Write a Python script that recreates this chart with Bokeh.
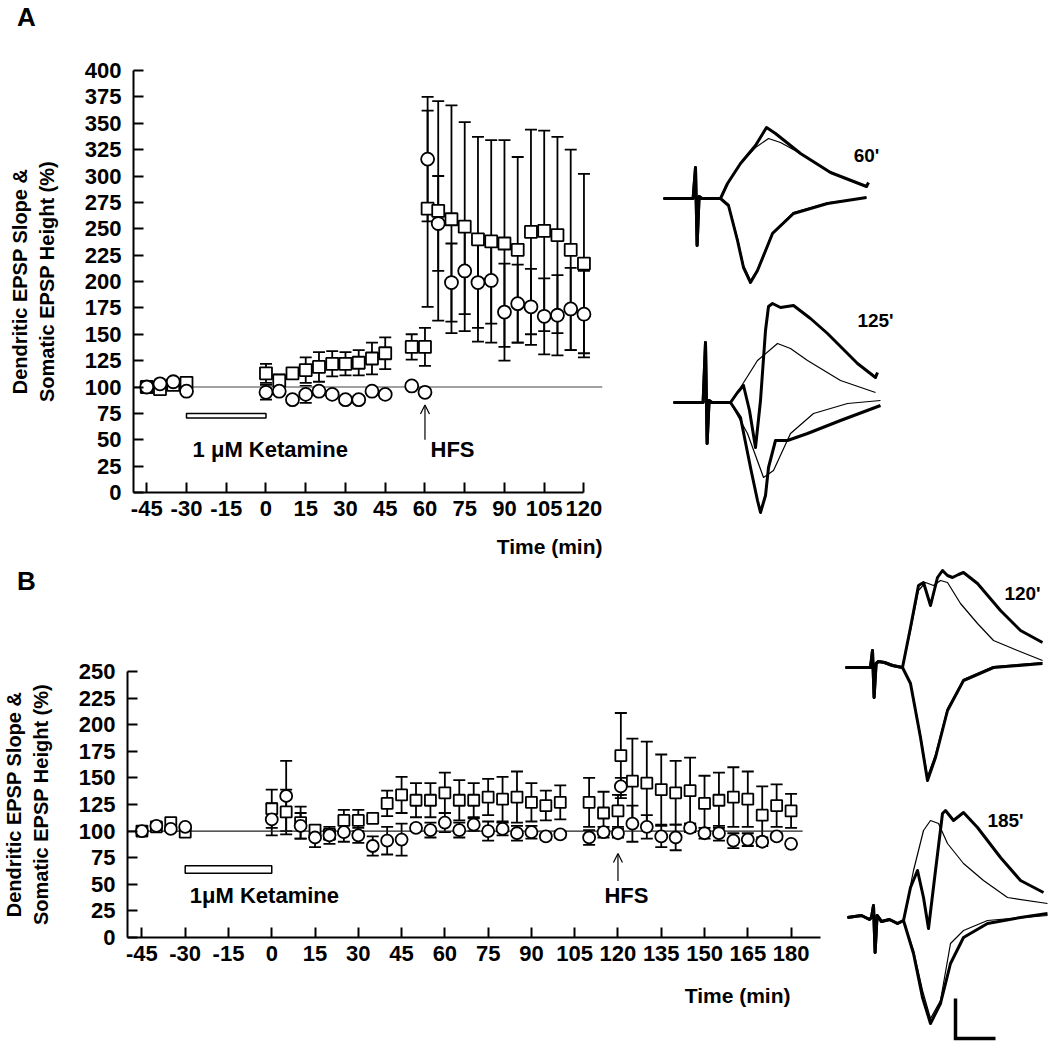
from bokeh.plotting import figure
from bokeh.layouts import column, row
from bokeh.models import (ColumnDataSource, Whisker, TeeHead, Arrow, OpenHead,
                          Label, Range1d, FixedTicker)
from bokeh.embed import file_html
from bokeh.resources import INLINE

FONT = "Liberation Sans"
YLABEL = "Dendritic EPSP Slope &\nSomatic EPSP Height (%)"

# ---------------- Panel A data ----------------
A_T = [-45, -40, -35, -30, 0, 5, 10, 15, 20, 25, 30, 35, 40, 45, 55, 60,
       61, 65, 70, 75, 80, 85, 90, 95, 100, 105, 110, 115, 120]
A_SQ = [100, 98, 102, 104, 113, 106, 113, 116, 119, 122, 122, 123, 127, 132, 138, 138,
        269, 267, 259, 252, 240, 238, 236, 230, 247, 248, 244, 230, 217]
A_SQ_SEM = [2, 2, 2, 2, 9, 6, 5, 12, 14, 12, 11, 12, 15, 15, 12, 18,
            93, 104, 108, 99, 97, 96, 98, 88, 97, 95, 93, 95, 85]
A_CI = [100, 103, 105, 96, 95, 96, 88, 93, 96, 93, 88, 88, 96, 93, 101, 95,
        316, 255, 199, 210, 199, 201, 171, 179, 176, 167, 168, 174, 169]
A_CI_SEM = [2, 2, 2, 2, 7, 3, 3, 8, 3, 3, 3, 3, 3, 3, 3, 3,
            59, 45, 37, 41, 43, 41, 46, 37, 36, 36, 38, 39, 41]
A_XTICKS = [-45, -30, -15, 0, 15, 30, 45, 60, 75, 90, 105, 120]
A_YTICKS = [0, 25, 50, 75, 100, 125, 150, 175, 200, 225, 250, 275, 300, 325, 350, 375, 400]

# ---------------- Panel B data ----------------
B_T = [-45, -40, -35, -30, 0, 5, 10, 15, 20, 25, 30, 35, 40, 45, 50, 55, 60, 65, 70, 75,
       80, 85, 90, 95, 100, 110, 115, 120, 121, 125, 130, 135, 140, 145, 150, 155, 160,
       165, 170, 175, 180]
B_SQ = [100, 104, 108, 99, 121, 118, 108, 101, 97, 110, 110, 112, 126, 134, 129, 129, 136, 129, 129, 132,
        130, 132, 127, 124, 127, 127, 117, 119, 171, 147, 145, 139, 136, 138, 126, 129, 132,
        130, 115, 124, 119]
B_SQ_SEM = [2, 2, 2, 2, 18, 21, 15, 4, 4, 10, 10, 2, 12, 17, 16, 16, 19, 19, 16, 17,
            21, 24, 18, 14, 16, 23, 20, 15, 40, 40, 39, 33, 30, 31, 26, 26, 28,
            26, 27, 20, 16]
B_CI = [100, 105, 102, 104, 111, 133, 105, 94, 96, 99, 96, 86, 91, 92, 103, 101, 108, 101, 106, 100,
        102, 98, 99, 95, 97, 94, 99, 98, 142, 107, 104, 95, 94, 103, 98, 98, 91,
        92, 90, 95, 88]
B_CI_SEM = [1.5, 1.5, 1.5, 1.5, 15, 33, 12, 9, 8, 9, 7, 9, 13, 15, 3, 7, 9, 7, 6, 9,
            6, 7, 6, 3, 3, 7, 5, 4, 8, 17, 11, 10, 12, 4, 5, 7, 7,
            6, 4, 3, 0]
B_XTICKS = [-45, -30, -15, 0, 15, 30, 45, 60, 75, 90, 105, 120, 135, 150, 165, 180]
B_YTICKS = [0, 25, 50, 75, 100, 125, 150, 175, 200, 225, 250]

KETAMINE = (-30, 0)
HFS_A = 60
HFS_B = 120

# ---------------- Example traces (ms, mV) ----------------
ART_A60_T = [-8, -0.6, 0, 0.4, 0.9, 1.6, 6.25]
ART_A60_V = [0, 0, 1.55, -2.35, 0.1, 0, 0]
A60_UP_THICK_T = [6.25, 8, 11.25, 15, 17.75, 20, 26.25, 33.75, 42.75, 43.25]
A60_UP_THICK_V = [0, 0.75, 1.75, 2.65, 3.55, 3.25, 2.25, 1.3, 0.6, 0.8]
A60_UP_THIN_T = [6.25, 8, 11.25, 15, 18.25, 21.25, 26.25, 33.75, 42.75]
A60_UP_THIN_V = [0, 0.75, 1.75, 2.55, 3.0, 2.8, 2.25, 1.3, 0.6]
A60_DN_THICK_T = [6.25, 8.25, 10.5, 12, 13.75, 15.5, 19.25, 24.5, 33, 42.75]
A60_DN_THICK_V = [0, -0.35, -2.1, -3.45, -4.2, -3.6, -1.75, -0.75, -0.25, 0.05]
A60_DN_THIN_T = [6.25, 8.25, 10.5, 12, 13.75, 15.5, 19.25, 24.5, 33, 42.75]
A60_DN_THIN_V = [0, -0.3, -2.0, -3.35, -4.1, -3.55, -1.7, -0.7, -0.22, 0.05]

ART_A125_T = [-8, -0.6, 0, 0.4, 0.9, 1.6, 6.25]
ART_A125_V = [0, 0, 3.0, -2.05, 0.1, 0, 0]
A125_UP_THICK_T = [6.25, 8, 9.5, 11, 12.5, 13.75, 15, 15.75, 16.75, 18.75, 22, 26.25, 30.5, 38, 42.5, 43]
A125_UP_THICK_V = [0, 0.5, 0.85, -0.4, -2.25, 0.1, 3.6, 4.8, 4.95, 4.75, 4.85, 4.2, 3.45, 1.95, 1.25, 1.5]
A125_UP_THIN_T = [6.25, 8.75, 13, 18, 21.25, 25.5, 33.75, 42.5]
A125_UP_THIN_V = [0, 0.75, 2.1, 2.95, 2.7, 2.1, 1.1, 0.5]
A125_DN_THICK_T = [6.25, 8.75, 11.25, 13, 13.75, 15, 15.75, 17.5, 20.5, 25.5, 33.75, 43.75]
A125_DN_THICK_V = [0, -0.75, -3.25, -4.9, -5.5, -4.65, -3.25, -1.9, -1.9, -1.55, -0.9, -0.15]
A125_DN_THIN_T = [6.25, 10.5, 14.5, 17, 21.25, 27, 35.5, 43.75]
A125_DN_THIN_V = [0, -1.55, -3.75, -3.4, -1.55, -0.55, -0.05, 0.1]

ART_B120_T = [-6.75, -0.5, 0, 0.4, 0.9, 1.5, 3, 5, 7.5]
ART_B120_V = [0, 0, 0.85, -1.5, 0.2, 0.3, 0.25, 0.1, 0]
B120_UP_THICK_T = [7.5, 9.5, 11.5, 12.75, 14.5, 16.25, 17.5, 18.75, 20, 21.5, 22.75, 26.25, 32, 37, 42.5]
B120_UP_THICK_V = [0, 2.0, 4.1, 4.25, 3.1, 4.5, 4.85, 4.6, 4.5, 4.65, 4.75, 4.2, 2.85, 1.85, 1.25]
B120_UP_THIN_T = [7.5, 9.5, 11.5, 13.25, 15.25, 17, 18.75, 22, 26.25, 30.25, 36.25, 42.5]
B120_UP_THIN_V = [0, 1.85, 3.85, 4.25, 4.1, 4.35, 4.25, 3.2, 2.2, 1.35, 0.85, 0.35]
B120_DN_THICK_T = [7.5, 9.5, 12, 13.75, 15.75, 18.75, 22.75, 30.25, 42.5]
B120_DN_THICK_V = [0, -0.8, -3.5, -5.65, -4.5, -2.15, -0.65, 0, 0.2]
B120_DN_THIN_T = [7.5, 9.5, 12, 13.75, 15.75, 18.75, 22.75, 30.25, 42.5]
B120_DN_THIN_V = [0, -0.75, -3.4, -5.45, -4.35, -2.05, -0.6, 0.05, 0.25]

ART_B185_T = [-6.5, -3, -1, -0.5, 0, 0.4, 0.9, 2, 4, 6, 7.5]
ART_B185_V = [0, 0.1, -0.1, 0, 0.6, -1.75, 0.1, -0.2, -0.1, -0.3, -0.15]
B185_UP_THICK_T = [7.5, 9.25, 11, 12.5, 13.75, 15.5, 17.25, 18, 20, 22.5, 26, 31.75, 36.75, 42.5]
B185_UP_THICK_V = [-0.15, 1.5, 2.35, 1.0, -0.55, 2.35, 5.2, 5.35, 4.85, 5.25, 4.5, 3.0, 1.85, 1.25]
B185_UP_THIN_T = [7.5, 10, 12.5, 14.25, 16.25, 18.5, 22.5, 27.5, 33.5, 43.5]
B185_UP_THIN_V = [-0.15, 2.35, 4.35, 4.85, 4.7, 3.7, 2.7, 1.85, 1.0, 0.7]
B185_DN_THICK_T = [7.5, 10, 12.25, 14.25, 16.75, 19.25, 22.5, 28.5, 36.75, 43.5]
B185_DN_THICK_V = [-0.15, -1.8, -4.0, -5.3, -4.3, -2.3, -1.0, -0.3, 0, 0.2]
B185_DN_THIN_T = [7.5, 10, 12.25, 14.25, 16.75, 19.25, 22.5, 28.5, 43.5]
B185_DN_THIN_V = [-0.15, -1.65, -3.65, -5.05, -4.15, -1.3, -0.65, -0.15, 0.1]

SCALE_MS = 10
SCALE_MV = 2


def no_align(p):
    if "frame_align" in p.properties():
        p.frame_align = False
    return p


def bold_label(p, x, y, text, size="22px", align="left", baseline="middle"):
    p.add_layout(Label(x=x, y=y, text=text, text_font=FONT, text_font_style="bold",
                       text_font_size=size, text_align=align, text_baseline=baseline,
                       text_color="black"))


def plain_fig(w, h, xr, yr):
    p = figure(width=w, height=h, x_range=xr, y_range=yr,
               output_backend="svg", toolbar_location=None, min_border=0,
               min_border_left=0, min_border_right=0, min_border_top=0, min_border_bottom=0)
    p.xaxis.visible = False
    p.yaxis.visible = False
    p.xgrid.visible = False
    p.ygrid.visible = False
    p.outline_line_color = None
    return no_align(p)


def style_axes(p, xticks, yticks):
    for ax in (p.xaxis[0], p.yaxis[0]):
        ax.axis_line_width = 2
        ax.axis_line_color = "black"
        ax.major_tick_line_width = 2
        ax.major_tick_line_color = "black"
        ax.major_tick_in = 10
        ax.major_tick_out = 0
        ax.minor_tick_line_color = None
        ax.major_label_text_font = FONT
        ax.major_label_text_font_style = "bold"
        ax.major_label_text_font_size = "22px"
        ax.major_label_text_color = "black"
    p.xaxis.ticker = FixedTicker(ticks=xticks)
    p.yaxis.ticker = FixedTicker(ticks=yticks)
    p.xaxis.major_label_overrides = {t: str(t) for t in xticks}
    p.xaxis.major_label_standoff = 8
    p.yaxis.major_label_standoff = 12
    p.yaxis.axis_label = YLABEL
    p.yaxis.axis_label_text_font = FONT
    p.yaxis.axis_label_text_font_style = "bold"
    p.yaxis.axis_label_text_font_size = "20px"
    p.yaxis.axis_label_standoff = 24
    p.yaxis.axis_label_text_color = "black"
    p.xgrid.visible = False
    p.ygrid.visible = False
    p.outline_line_color = None
    no_align(p)


def add_series(p, t, sq, sq_sem, ci, ci_sem, sq_size, ci_size):
    src = ColumnDataSource(dict(
        t=t, sq=sq, ci=ci,
        sq_up=[v + e for v, e in zip(sq, sq_sem)], sq_lo=[v - e for v, e in zip(sq, sq_sem)],
        ci_up=[v + e for v, e in zip(ci, ci_sem)], ci_lo=[v - e for v, e in zip(ci, ci_sem)],
    ))
    for up, lo in (("sq_up", "sq_lo"), ("ci_up", "ci_lo")):
        p.add_layout(Whisker(source=src, base="t", upper=up, lower=lo,
                             line_color="black", line_width=1.8,
                             upper_head=TeeHead(size=12, line_width=1.8, line_color="black"),
                             lower_head=TeeHead(size=12, line_width=1.8, line_color="black")))
    p.scatter("t", "sq", source=src, marker="square", size=sq_size, fill_color="white",
              line_color="black", line_width=1.8)
    p.scatter("t", "ci", source=src, marker="circle", size=ci_size, fill_color="white",
              line_color="black", line_width=1.8)


def draw_sweeps(p, art_t, art_v, sweeps, dx, dy):
    for t, v, lw in sweeps:
        xs = [a + dx for a in art_t[:-1] + t]
        ys = [b + dy for b in art_v[:-1] + v]
        p.line(xs, ys, line_color="black", line_width=lw, line_join="round")


# ---------------- Panel A ----------------
hdrA = plain_fig(640, 38, Range1d(0, 640), Range1d(38, 0))
bold_label(hdrA, 26, 16, "A", size="26px", align="center")

pA = figure(width=640, height=494, x_range=Range1d(-50, 127), y_range=Range1d(0, 400),
            output_backend="svg", toolbar_location=None,
            min_border_left=133, min_border_right=38, min_border_top=32, min_border_bottom=40)
style_axes(pA, A_XTICKS, A_YTICKS)
pA.xaxis.bounds = (-50, 120)
pA.line([-50, 127], [100, 100], line_color="#808080", line_width=1.6)
pA.quad(left=[KETAMINE[0]], right=[KETAMINE[1]], bottom=[70.5], top=[75],
        fill_color="white", line_color="black", line_width=1.5)
add_series(pA, A_T, A_SQ, A_SQ_SEM, A_CI, A_CI_SEM, 12, 13)
pA.add_layout(Arrow(end=OpenHead(size=9, line_width=1.2, line_color="black"),
                    x_start=HFS_A, y_start=50, x_end=HFS_A, y_end=83,
                    line_width=1.2, line_color="black"))
bold_label(pA, -27.7, 40.5, "1 \u03bcM Ketamine")
bold_label(pA, 62.1, 40.5, "HFS")

ftrA = plain_fig(640, 33, Range1d(0, 640), Range1d(33, 0))
bold_label(ftrA, 602, 14, "Time (min)", size="21px", align="right")

tA = plain_fig(409, 565, Range1d(-13.75, 88.5), Range1d(-18.35, 9.9))
draw_sweeps(tA, ART_A60_T, ART_A60_V, [
    (A60_UP_THIN_T, A60_UP_THIN_V, 1.2), (A60_DN_THIN_T, A60_DN_THIN_V, 1.2),
    (A60_UP_THICK_T, A60_UP_THICK_V, 3), (A60_DN_THICK_T, A60_DN_THICK_V, 3)], 0, 0)
draw_sweeps(tA, ART_A125_T, ART_A125_V, [
    (A125_UP_THIN_T, A125_UP_THIN_V, 1.2), (A125_DN_THIN_T, A125_DN_THIN_V, 1.2),
    (A125_UP_THICK_T, A125_UP_THICK_V, 3), (A125_DN_THICK_T, A125_DN_THICK_V, 3)], 2.5, -10.2)
bold_label(tA, 42.75, 2.15, "60'", size="19px", align="center")
bold_label(tA, 45, -6.1, "125'", size="19px", align="center")

# ---------------- Panel B ----------------
hdrB = plain_fig(830, 30, Range1d(0, 830), Range1d(30, 0))
bold_label(hdrB, 26, 15, "B", size="26px", align="center")

pB = figure(width=830, height=385, x_range=Range1d(-50, 190.2), y_range=Range1d(0, 250),
            output_backend="svg", toolbar_location=None,
            min_border_left=126, min_border_right=10, min_border_top=76, min_border_bottom=43)
style_axes(pB, B_XTICKS, B_YTICKS)
pB.line([-50, 184], [100, 100], line_color="#202020", line_width=1.4)
pB.quad(left=[KETAMINE[0]], right=[KETAMINE[1]], bottom=[60.5], top=[67.5],
        fill_color="white", line_color="black", line_width=1.5)
add_series(pB, B_T, B_SQ, B_SQ_SEM, B_CI, B_CI_SEM, 11, 12)
pB.add_layout(Arrow(end=OpenHead(size=9, line_width=1.2, line_color="black"),
                    x_start=HFS_B, y_start=53, x_end=HFS_B, y_end=79,
                    line_width=1.2, line_color="black"))
bold_label(pB, -28.4, 39.5, "1\u03bcM Ketamine")
bold_label(pB, 115.3, 39.5, "HFS")

ftrB = plain_fig(830, 63, Range1d(0, 830), Range1d(63, 0))
bold_label(ftrB, 790, 15, "Time (min)", size="21px", align="right")

tB = plain_fig(219, 478, Range1d(-10.5, 44.25), Range1d(-18.8, 5.1))
draw_sweeps(tB, ART_B120_T, ART_B120_V, [
    (B120_UP_THIN_T, B120_UP_THIN_V, 1.2), (B120_DN_THIN_T, B120_DN_THIN_V, 1.2),
    (B120_UP_THICK_T, B120_UP_THICK_V, 3), (B120_DN_THICK_T, B120_DN_THICK_V, 3)], 0, 0)
draw_sweeps(tB, ART_B185_T, ART_B185_V, [
    (B185_UP_THIN_T, B185_UP_THIN_V, 1.2), (B185_DN_THIN_T, B185_DN_THIN_V, 1.2),
    (B185_UP_THICK_T, B185_UP_THICK_V, 3), (B185_DN_THICK_T, B185_DN_THICK_V, 3)], 0.25, -12.5)
bold_label(tB, 37.5, 3.7, "120'", size="19px", align="center")
bold_label(tB, 33.25, -7.65, "185'", size="19px", align="center")
sb_x, sb_y = 20.75, -18.55
tB.line([sb_x, sb_x, sb_x + SCALE_MS], [sb_y + SCALE_MV, sb_y, sb_y],
        line_color="black", line_width=3.5, line_join="miter")

layout = column(row(column(hdrA, pA, ftrA), tA),
                row(column(hdrB, pB, ftrB), tB))
open("out.html", "w").write(file_html(layout, INLINE))
